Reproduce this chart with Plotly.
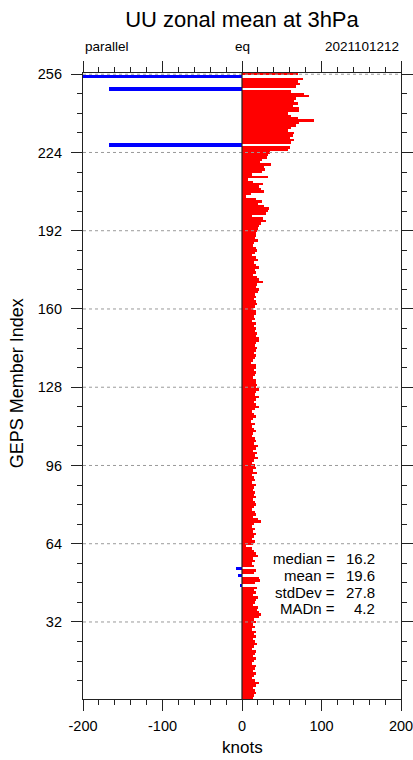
import plotly.graph_objects as go

# Member index (top to bottom) and zonal-mean UU in knots
members_desc = list(range(256, 0, -1))
uu_knots_desc = [
    # 256 -> 225
    71, -205, 77, 70, 73, 68, -167, 62, 78, 84, 68, 65, 70, 64, 72, 72,
    58, 62, 70, 90, 72, 68, 62, 58, 65, 64, 60, 66, 62, -167, 60, 58,
    # 224 -> 193
    35, 33, 31, 25, 23, 37, 28, 29, 25, 12, 33, 8, 14, 27, 22, 24,
    28, 11, 5, 17, 25, 20, 28, 34, 33, 30, 12, 26, 30, 24, 22, 20,
    # 192 -> 171
    19, 17, 18, 16, 20, 15, 14, 17, 19, 16, 13, 18, 20, 15, 17, 21,
    16, 18, 14, 19, 22, 26,
    # 170 -> 129
    19, 17, 21, 20, 16, 18, 15, 17, 19, 16, 14, 18, 17, 15, 16, 13,
    17, 15, 18, 16, 19, 17, 21, 22, 18, 16, 19, 17, 15, 18, 16, 14,
    11, 17, 18, 15, 17, 16, 14, 18, 17, 19,
    # 128
    18,
    # 127 -> 85
    21, 17, 16, 22, 18, 15, 17, 21, 16, 13, 15, 17, 14, 11, 16, 13,
    15, 17, 14, 12, 16, 18, 15, 20, 17, 14, 19, 16, 20, 15, 13, 16,
    17, 14, 19, 12, 15, 16, 13, 17, 15, 14, 16,
    # 84 -> 43
    15, 17, 14, 16, 18, 15, 13, 16, 17, 14, 20, 24, 15, 13, 16, 14,
    17, 15, 12, 16, 14, 5, 13, 15, 18, 20, 14, 16, 12, 15, -8, 17,
    15, -5, 22, 23, 16, -1.5, 19, 15, 17, 14,
    # 42 -> 1
    20, 18, 16, 14, 20, 19, 22, 24, 21, 15, 17, 14, 16, 13, 18, 15,
    17, 14, 16, 19, 15, 13, 17, 16, 14, 18, 15, 13, 17, 16, 14, 18,
    15, 13, 16, 22, 17, 14, 16, 18, 15, 14,
]

x_ticks = [-200, -100, 0, 100, 200]
y_ticks = [32, 64, 96, 128, 160, 192, 224, 256]
top_labels = ["parallel", "eq", "2021101212"]
stat_names = ["median =", "mean =", "stdDev =", "MADn ="]
stat_values = ["16.2", "19.6", "27.8", "4.2"]

FONT = "Liberation Sans, Arial, Helvetica, sans-serif"

W, H = 413, 760
PL, PR, PT, PB = 83.3, 401.0, 72.7, 699.0      # plot area in window pixels
PW, PH = PR - PL, PB - PT


def px_x(px):
    return (px - PL) / PW


def px_y(py):
    return (PB - py) / PH


colors = ["#ff0000" if v >= 0 else "#0000ff" for v in uu_knots_desc]
widths = [1.0 if v >= 0 else 1.35 for v in uu_knots_desc]

fig = go.Figure()
fig.add_trace(go.Bar(
    y=members_desc, x=uu_knots_desc, orientation="h",
    width=widths, marker=dict(color=colors, line=dict(width=0)),
    showlegend=False, hoverinfo="x+y",
))

axis_common = dict(
    showline=True, linecolor="#222", linewidth=1.2, mirror="ticks",
    ticks="outside", ticklen=11, tickwidth=1.2, tickcolor="#222",
    showgrid=False, zeroline=False, automargin=False,
    ticklabeloverflow="allow",
    tickfont=dict(family=FONT, size=14.5, color="#000"),
)

fig.update_layout(
    width=W, height=H,
    margin=dict(l=PL, r=W - PR, t=PT, b=H - PB, autoexpand=False),
    paper_bgcolor="white", plot_bgcolor="white",
    bargap=0,
    font=dict(family=FONT, color="#000"),
    title=dict(text="UU zonal mean at 3hPa", x=0.5, xref="paper", xanchor="center",
               y=1 - 19.5 / H, yref="container", yanchor="middle",
               font=dict(family=FONT, size=22, color="#000")),
    xaxis=dict(range=[-200, 200], tickvals=x_ticks, ticktext=[str(v) for v in x_ticks],
               minor=dict(dtick=20, tick0=0, ticks="outside", ticklen=5,
                          tickwidth=1, tickcolor="#222"),
               ticklabelstandoff=2,
               **axis_common),
    yaxis=dict(range=[0.5, 256.5], tickvals=y_ticks, ticktext=[str(v) for v in y_ticks],
               minor=dict(dtick=8, tick0=0, ticks="outside", ticklen=5,
                          tickwidth=1, tickcolor="#222"),
               ticklabelstandoff=6,
               **axis_common),
)

# dashed horizontal reference lines at the major member ticks (above bars)
for yv in y_ticks:
    fig.add_shape(type="line", xref="paper", x0=0, x1=1, yref="y", y0=yv, y1=yv,
                  line=dict(color="#9a9a9a", width=1, dash="3px,3px"), layer="above")
# equator / zero line
fig.add_shape(type="line", xref="x", x0=0, x1=0, yref="paper", y0=0, y1=1,
              line=dict(color="#222", width=1.2), layer="above")

# top strings
for txt, xp, anc in zip(top_labels, [0, 0.5, 1], ["left", "center", "right"]):
    fig.add_annotation(text=txt, xref="paper", yref="paper", x=xp, y=px_y(46),
                       xanchor=anc, yanchor="middle", showarrow=False,
                       font=dict(family=FONT, size=13.5, color="#000"))

# axis titles
fig.add_annotation(text="knots", xref="paper", yref="paper", x=0.5, y=px_y(748),
                   xanchor="center", yanchor="middle", showarrow=False,
                   font=dict(family=FONT, size=17, color="#000"))
fig.add_annotation(text="GEPS Member Index", xref="paper", yref="paper",
                   x=px_x(17.5), y=px_y(383), textangle=-90,
                   xanchor="center", yanchor="middle", showarrow=False,
                   font=dict(family=FONT, size=18, color="#000"))

# statistics block
stat_y_px = [558, 575, 592, 608]
for name, val, py in zip(stat_names, stat_values, stat_y_px):
    fig.add_annotation(text=name, xref="paper", yref="paper", x=px_x(337), y=px_y(py),
                       xanchor="right", yanchor="middle", showarrow=False,
                       font=dict(family=FONT, size=15, color="#000"))
    fig.add_annotation(text=val, xref="paper", yref="paper", x=px_x(377), y=px_y(py),
                       xanchor="right", yanchor="middle", showarrow=False,
                       font=dict(family=FONT, size=15, color="#000"))

# remove the default page margin so the figure fills the window exactly
fig.write_html(
    "out.html",
    config={"displayModeBar": False},
    post_script="document.body.style.margin='0';document.body.style.overflow='hidden';",
)
